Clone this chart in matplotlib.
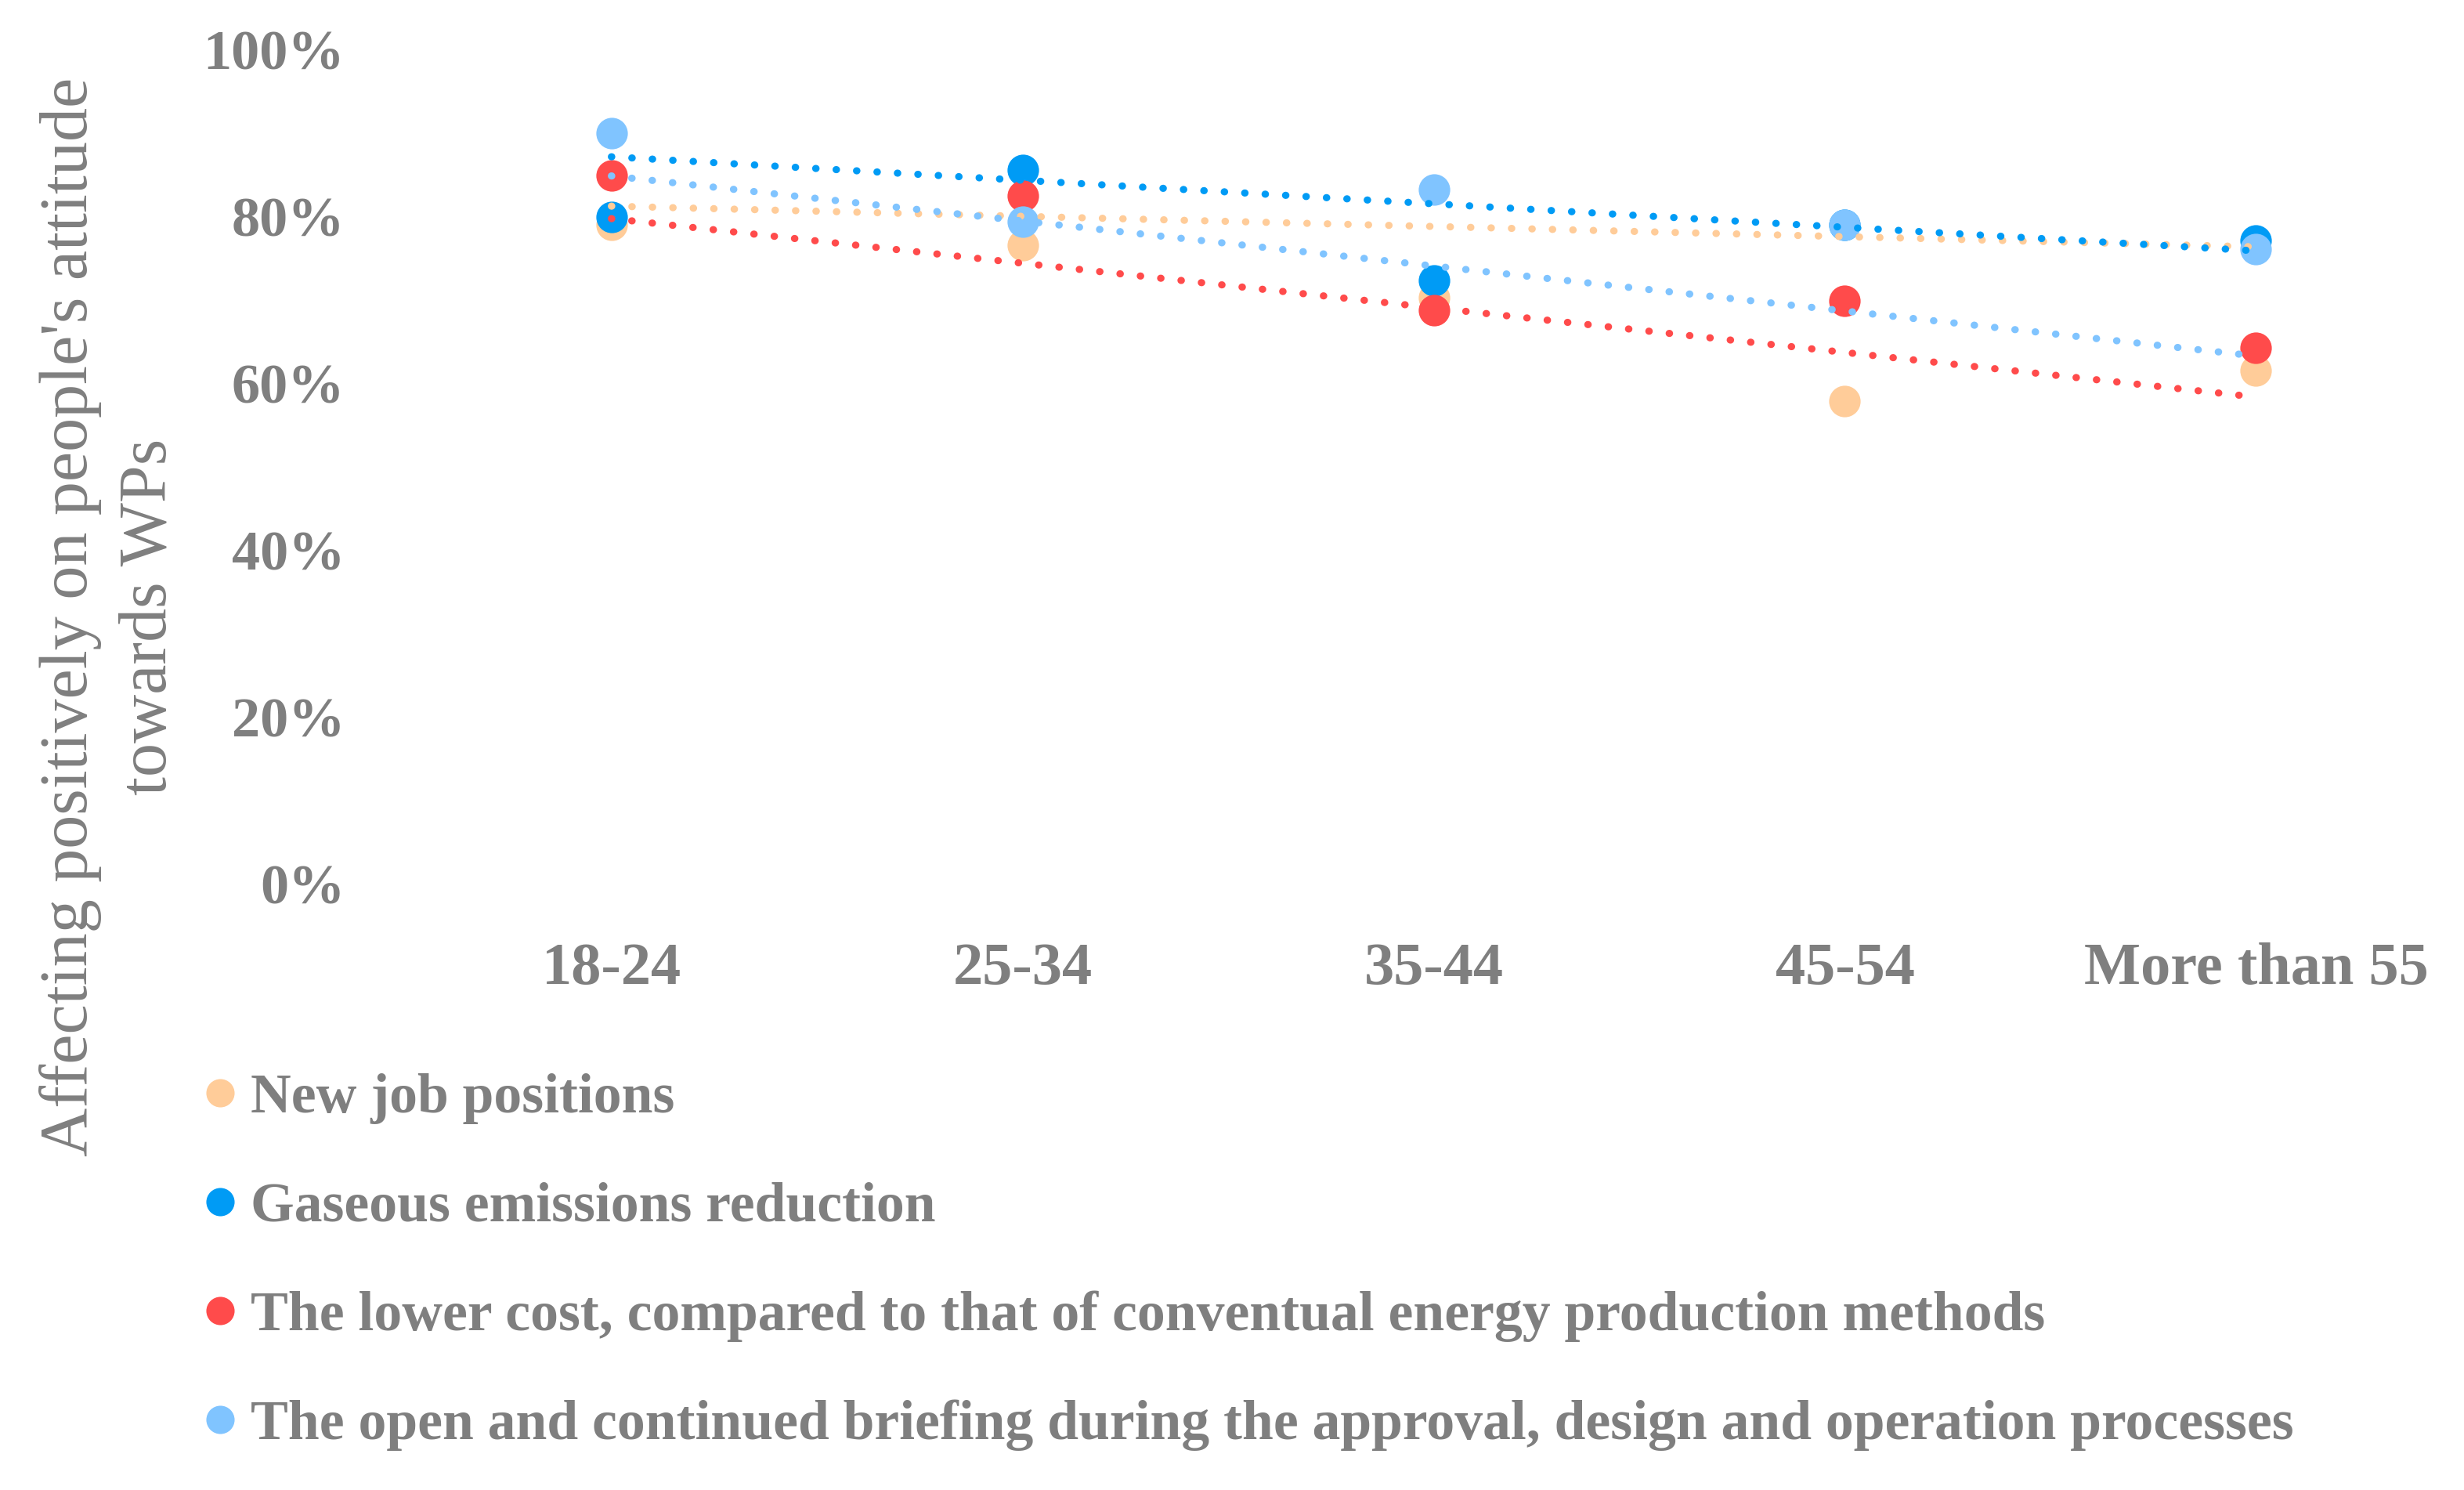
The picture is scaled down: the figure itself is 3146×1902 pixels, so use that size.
import numpy as np
import matplotlib
matplotlib.use("Agg")
import matplotlib.pyplot as plt
from matplotlib.lines import Line2D

# age groups and shares
categories = ["18-24", "25-34", "35-44", "45-54", "More than 55"]
new_jobs = [0.790, 0.766, 0.703, 0.579, 0.616]
emissions = [0.800, 0.856, 0.724, 0.790, 0.772]
lower_cost = [0.850, 0.825, 0.688, 0.699, 0.643]
briefing = [0.900, 0.794, 0.833, 0.790, 0.761]

labels = ["New job positions",
          "Gaseous emissions reduction",
          "The lower cost, compared to that of conventual energy production methods",
          "The open and continued briefing during the approval, design and operation processes"]
colors = ["#FFCC99", "#009BF5", "#FF4B4B", "#80C4FF"]
# the trendline colours in the original are shifted by one series
trend_colors = ["#FF4B4B", "#FFCC99", "#80C4FF", "#009BF5"]

gray = "#7F7F7F"
plt.rcParams['font.family'] = ['Liberation Serif', 'DejaVu Serif']

fig = plt.figure(figsize=(15.73, 9.51), dpi=200)
ax = fig.add_axes([0.1647, 0.4069, 0.8343, 0.5595])

x = np.arange(len(categories))
series = [new_jobs, emissions, lower_cost, briefing]
for vals, c, lab in zip(series, colors, labels):
    ax.scatter(x, vals, s=210, color=c, zorder=3, label=lab, linewidths=0)

# linear trendlines (x = 1..5 like excel)
for vals, tc in zip(series, trend_colors):
    k, b = np.polyfit(x, vals, 1)
    ax.plot(x, k * x + b, color=tc, lw=3.3, linestyle=(0, (0.05, 2.8)),
            dash_capstyle='round', zorder=4)

ax.set_xlim(-0.5, 4.5)
ax.set_ylim(0, 1)
ax.set_yticks(np.arange(0, 1.01, 0.2))
ax.set_yticklabels([f"{int(round(v*100))}%" for v in np.arange(0, 1.01, 0.2)])
ax.set_xticks(x)
ax.set_xticklabels(categories)
ax.tick_params(length=0, labelcolor=gray)
ax.tick_params(axis='y', pad=28, labelsize=26)
ax.tick_params(axis='x', pad=27, labelsize=27.5)
for t in ax.get_xticklabels() + ax.get_yticklabels():
    t.set_fontweight('bold')
for s in ax.spines.values():
    s.set_visible(False)

fig.text(0.0445, 0.586, "Affecting positively on people's attitude\ntowards WPs",
         rotation=90, ha='center', va='center', multialignment='center',
         fontsize=31, color=gray, linespacing=1.35)

handles = [Line2D([], [], marker='o', ls='none', markersize=13, color=c, markeredgewidth=0)
           for c in colors]
leg = ax.legend(handles, labels, loc='upper left', bbox_to_anchor=(0.0825, 0.280),
                bbox_transform=fig.transFigure, frameon=False, fontsize=25.8,
                handlelength=0.6, handletextpad=0.25, labelspacing=1.03, borderpad=0,
                borderaxespad=0)
for t in leg.get_texts():
    t.set_color(gray)
    t.set_fontweight('bold')

fig.savefig("out.png", dpi=200)
